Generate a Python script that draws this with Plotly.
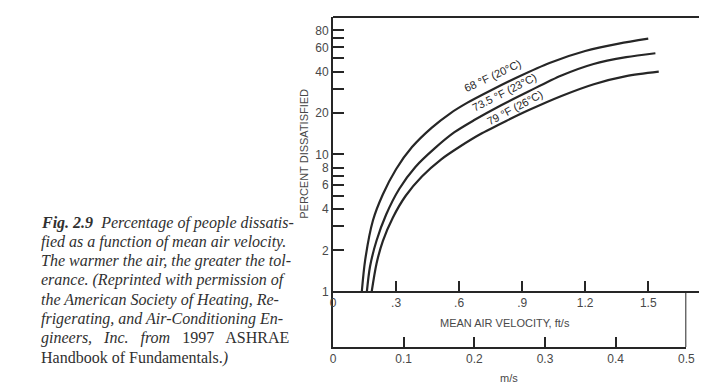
import plotly.graph_objects as go

# Mean air velocity (ft/s) and percent dissatisfied for each air temperature
vel_68 = [0.137, 0.153, 0.19, 0.237, 0.30, 0.376, 0.469, 0.56, 0.64, 0.75, 0.88, 1.03, 1.20, 1.36, 1.50]
pct_68 = [1.0, 1.7, 3.3, 5.1, 7.8, 11.3, 15.6, 20.0, 23.8, 29.2, 36.6, 46.3, 56.5, 64.0, 69.5]

vel_735 = [0.161, 0.176, 0.207, 0.253, 0.315, 0.392, 0.485, 0.578, 0.67, 0.80, 0.93, 1.087, 1.24, 1.395, 1.534]
pct_735 = [1.0, 1.52, 2.35, 3.65, 5.6, 8.1, 11.1, 14.5, 17.7, 22.8, 28.7, 37.5, 45.5, 51.0, 54.5]

vel_79 = [0.184, 0.207, 0.2375, 0.284, 0.346, 0.423, 0.515, 0.608, 0.70, 0.824, 0.932, 1.087, 1.241, 1.395, 1.55]
pct_79 = [1.0, 1.6, 2.35, 3.45, 5.0, 6.9, 9.2, 11.5, 14.0, 17.5, 21.0, 26.6, 32.4, 37.1, 40.0]

curve_labels = ["68 °F (20°C)", "73.5 °F (23°C)", "79 °F (26°C)"]

# Axis ticks
y_tickvals = [1, 2, 3, 4, 5, 6, 7, 8, 10, 20, 30, 40, 50, 60, 70, 80]
y_ticktext = ["1", "2", "", "4", "", "6", "", "8", "10", "20", "", "40", "", "60", "", "80"]
fts_tickvals = [0, 0.3, 0.6, 0.9, 1.2, 1.5]
fts_ticktext = ["0", ".3", ".6", ".9", "1.2", "1.5"]
ms_tickvals = [0, 0.1, 0.2, 0.3, 0.4, 0.5]
ms_ticktext = ["0", "0.1", "0.2", "0.3", "0.4", "0.5"]

caption_lines = [
    "<i><b>Fig. 2.9</b>  Percentage of people dissatis-</i>",
    "<i>fied as a function of mean air velocity.</i>",
    "<i>The warmer the air, the greater the tol-</i>",
    "<i>erance. (Reprinted with permission of</i>",
    "<i>the American Society of Heating, Re-</i>",
    "<i>frigerating, and Air-Conditioning En-</i>",
    "<i>gineers,   Inc.   from</i>   1997   ASHRAE",
    "Handbook of Fundamentals.<i>)</i>",
]

W, H = 708, 387
L, R, T, B = 333, 0, 17, 40
PW, PH = W - L - R, H - T - B

INK = "#262626"
GREY = "#484848"


def px_x(px):
    return (px - L) / PW


def px_y(py):
    return (H - B - py) / PH


# ft/s axis line sits at the 1 % level
axis_pos = px_y(291.7)

fig = go.Figure()
for v, p in [(vel_68, pct_68), (vel_735, pct_735), (vel_79, pct_79)]:
    fig.add_trace(go.Scatter(
        x=v, y=p, mode="lines",
        line=dict(color=INK, width=2.2, shape="spline", smoothing=0.8),
        showlegend=False, hoverinfo="skip",
    ))

tick_font = dict(family="Liberation Sans, Arial, sans-serif", size=12, color=GREY)

fig.update_layout(
    width=W, height=H,
    margin=dict(l=L, r=R, t=T, b=B, pad=0),
    paper_bgcolor="white", plot_bgcolor="rgba(0,0,0,0)",
    xaxis=dict(
        domain=[0, 1], range=[0, 1.7415], anchor="free", position=axis_pos,
        showline=True, linewidth=2, linecolor=INK,
        ticks="inside", ticklen=10, tickwidth=2, tickcolor=INK,
        tickvals=fts_tickvals, ticktext=fts_ticktext,
        showgrid=False, zeroline=False, tickfont=tick_font,
    ),
    xaxis2=dict(
        domain=[0, px_x(695)], range=[0, 0.5], anchor="y", side="bottom",
        showline=True, linewidth=2, linecolor=INK,
        ticks="inside", ticklen=10, tickwidth=2, tickcolor=INK,
        tickvals=ms_tickvals, ticktext=ms_ticktext,
        showgrid=False, zeroline=False, tickfont=tick_font,
    ),
    yaxis=dict(
        type="log", range=[-0.402, 2.0], domain=[0, 1], anchor="x",
        showline=True, linewidth=2, linecolor=INK,
        ticks="inside", ticklen=11, tickwidth=2, tickcolor=INK,
        tickvals=y_tickvals, ticktext=y_ticktext,
        showgrid=False, zeroline=False, tickfont=tick_font,
    ),
)

# Frame: top rule and right wall of the m/s scale box
fig.add_shape(type="line", xref="paper", yref="paper", x0=0, x1=1, y0=1, y1=1,
              line=dict(color=INK, width=2))
fig.add_shape(type="line", xref="x2", yref="paper", x0=0.5, x1=0.5, y0=0, y1=axis_pos,
              line=dict(color=INK, width=2))

title_font = dict(family="Liberation Sans, Arial, sans-serif", size=11, color=GREY)
fig.add_annotation(text="PERCENT DISSATISFIED", xref="paper", yref="paper",
                   x=px_x(303), y=px_y(154), textangle=-90, showarrow=False,
                   font=title_font, xanchor="center", yanchor="middle")
fig.add_annotation(text="MEAN AIR VELOCITY, ft/s", xref="paper", yref="paper",
                   x=px_x(509), y=px_y(323), showarrow=False,
                   font=title_font, xanchor="center", yanchor="middle")
fig.add_annotation(text="m/s", xref="paper", yref="paper",
                   x=px_x(513), y=px_y(378), showarrow=False,
                   font=title_font, xanchor="center", yanchor="middle")

# Temperature labels riding just above their curves
label_pos = [(496, 76, -25), (509, 92, -27), (518.5, 107.5, -28)]
for txt, (lx, ly, ang) in zip(curve_labels, label_pos):
    fig.add_annotation(text=txt, xref="paper", yref="paper",
                       x=px_x(lx), y=px_y(ly), textangle=ang, showarrow=False,
                       font=dict(family="Liberation Sans, Arial, sans-serif", size=11, color=INK),
                       xanchor="center", yanchor="middle")

# Figure caption
cap_y = [223.3, 241.7, 261, 280, 300, 319.3, 338.3, 358.3]
for line, cy in zip(caption_lines, cap_y):
    fig.add_annotation(text=line, xref="paper", yref="paper",
                       x=px_x(32), y=px_y(cy), showarrow=False,
                       font=dict(family="Liberation Serif, Times New Roman, serif", size=16, color="#303030"),
                       xanchor="left", yanchor="middle")

fig.write_html("out.html")
